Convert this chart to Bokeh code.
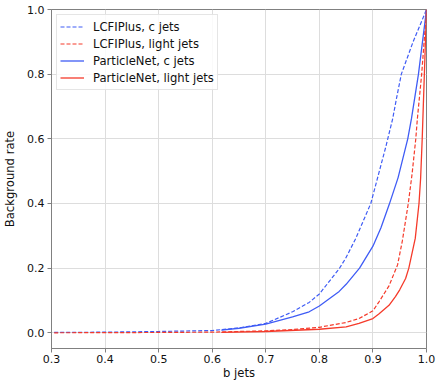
from bokeh.plotting import figure
from bokeh.models import Range1d, FixedTicker, Legend, PrintfTickFormatter
from bokeh.embed import file_html
from bokeh.resources import INLINE

# ---- data ----
lcfi_c_x = [0.305, 0.4, 0.5, 0.6, 0.65, 0.7, 0.75, 0.781, 0.8, 0.837, 0.849, 0.868, 0.896, 0.924, 0.937, 0.944, 0.953, 0.975, 1.0]
lcfi_c_y = [0.001, 0.002, 0.004, 0.007, 0.015, 0.029, 0.065, 0.094, 0.12, 0.198, 0.23, 0.292, 0.40, 0.575, 0.663, 0.725, 0.80, 0.90, 1.0]

lcfi_l_x = [0.305, 0.5, 0.6, 0.7, 0.75, 0.8, 0.85, 0.874, 0.9, 0.911, 0.93, 0.946, 0.955, 0.966, 0.973, 0.98, 0.983, 0.991, 1.0]
lcfi_l_y = [0.0, 0.001, 0.002, 0.006, 0.010, 0.017, 0.032, 0.044, 0.068, 0.095, 0.145, 0.21, 0.285, 0.40, 0.49, 0.60, 0.663, 0.80, 1.0]

pn_c_x = [0.617, 0.65, 0.7, 0.75, 0.781, 0.8, 0.837, 0.85, 0.875, 0.9, 0.915, 0.93, 0.947, 0.965, 0.972, 0.985, 1.0]
pn_c_y = [0.008, 0.014, 0.027, 0.049, 0.065, 0.083, 0.128, 0.15, 0.20, 0.268, 0.325, 0.395, 0.48, 0.60, 0.663, 0.80, 1.0]

pn_l_x = [0.617, 0.7, 0.8, 0.85, 0.874, 0.9, 0.911, 0.93, 0.942, 0.95, 0.961, 0.967, 0.979, 0.986, 0.989, 0.992, 0.996, 1.0]
pn_l_y = [0.001, 0.004, 0.011, 0.018, 0.029, 0.044, 0.058, 0.085, 0.112, 0.133, 0.168, 0.20, 0.292, 0.40, 0.477, 0.60, 0.80, 1.0]

x_ticks = [0.3, 0.4, 0.5, 0.6, 0.7, 0.8, 0.9, 1.0]
y_ticks = [0.0, 0.2, 0.4, 0.6, 0.8, 1.0]

labels = ["LCFIPlus, c jets", "LCFIPlus, light jets", "ParticleNet, c jets", "ParticleNet, light jets"]

BLUE = "#3f5cf5"
RED = "#f53a2a"
FONT = "DejaVu Sans"

p = figure(width=436, height=383, output_backend="svg", toolbar_location=None,
           x_range=Range1d(0.3, 1.0), y_range=Range1d(-0.0486, 1.0),
           min_border_left=50, min_border_right=10, min_border_top=9, min_border_bottom=35)

r1 = p.line(lcfi_c_x, lcfi_c_y, line_color=BLUE, line_width=1.2, line_dash="4 2")
r2 = p.line(lcfi_l_x, lcfi_l_y, line_color=RED, line_width=1.2, line_dash="4 2")
r3 = p.line(pn_c_x, pn_c_y, line_color=BLUE, line_width=1.3)
r4 = p.line(pn_l_x, pn_l_y, line_color=RED, line_width=1.3)

legend = Legend(items=[(labels[0], [r1]), (labels[1], [r2]), (labels[2], [r3]), (labels[3], [r4])],
                location="top_left")
legend.margin = 5
legend.padding = 3
legend.spacing = 0
legend.label_height = 17
legend.glyph_height = 17
legend.glyph_width = 24
legend.label_standoff = 9
legend.label_text_font = FONT
legend.label_text_font_size = "11.6px"
legend.label_text_color = "#111111"
legend.border_line_color = "#cccccc"
legend.border_line_width = 1
legend.background_fill_alpha = 0.85
p.add_layout(legend)

p.xaxis.ticker = FixedTicker(ticks=x_ticks)
p.yaxis.ticker = FixedTicker(ticks=y_ticks)
p.xaxis.formatter = PrintfTickFormatter(format="%.1f")
p.yaxis.formatter = PrintfTickFormatter(format="%.1f")
p.xaxis.axis_label = "b jets"
p.yaxis.axis_label = "Background rate"
for ax in (p.xaxis, p.yaxis):
    ax.axis_label_text_font = FONT
    ax.axis_label_text_font_size = "11.6px"
    ax.axis_label_text_font_style = "normal"
    ax.axis_label_text_color = "#111111"
    ax.major_label_text_font = FONT
    ax.major_label_text_font_size = "11px"
    ax.major_label_text_color = "#111111"
    ax.axis_line_color = "#808080"
    ax.major_tick_line_color = "#808080"
    ax.major_tick_out = 4
    ax.major_tick_in = 0
    ax.minor_tick_line_color = None
p.xaxis.major_label_standoff = 2
p.xaxis.axis_label_standoff = 0
p.yaxis.major_label_standoff = 3
p.yaxis.axis_label_standoff = 7

p.outline_line_color = "#808080"
p.outline_line_width = 1
p.grid.grid_line_color = "#dddddd"
p.grid.grid_line_width = 1
p.background_fill_color = "white"
p.border_fill_color = "white"

open("out.html", "w").write(file_html(p, INLINE))
